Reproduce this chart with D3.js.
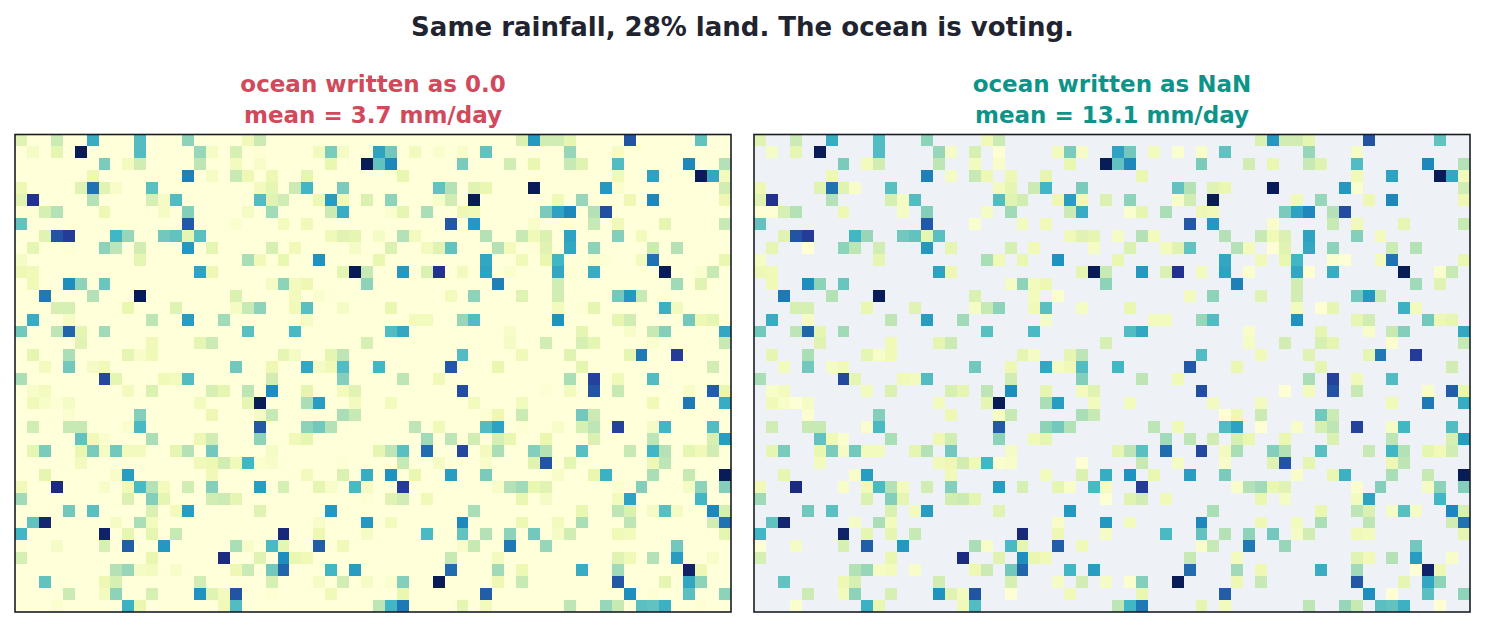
<!DOCTYPE html>
<html>
<head>
<meta charset="utf-8">
<script src="https://cdn.jsdelivr.net/npm/d3@7"></script>
<style>
  html, body { margin: 0; padding: 0; background: #fff; }
  text { font-family: "DejaVu Sans", sans-serif; font-weight: bold; }
</style>
</head>
<body>
<div id="chart"></div>
<script>
// land cells only, one list per row: [column, mm/day]
const landRows = [
  [[0,10],[3,14],[6,32],[10,28],[14,21],[19,6],[20,14],[42,11],[43,36],[44,13],[45,13],[46,9],[51,47],[57,26]],
  [[1,4],[3,9],[5,60],[10,28],[15,20],[16,4],[18,12],[20,1],[25,5],[26,23],[27,4],[30,34],[31,24],[33,5],[35,2],[37,3],[39,26],[46,20],[50,4]],
  [[7,23],[9,5],[10,13],[15,16],[18,5],[20,3],[26,8],[29,60],[30,26],[31,39],[37,23],[41,13],[43,8],[46,15],[47,10],[50,28],[56,39],[59,17]],
  [[6,7],[14,40],[16,4],[18,15],[19,7],[21,7],[24,9],[32,8],[50,6],[53,34],[57,60],[58,33],[59,5]],
  [[0,7],[5,10],[6,42],[7,10],[8,3],[11,27],[20,5],[21,9],[23,14],[24,30],[27,23],[35,26],[36,17],[38,10],[39,8],[43,60],[49,36],[50,2],[59,13]],
  [[0,10],[1,53],[6,17],[11,12],[12,4],[13,28],[20,28],[21,10],[22,13],[25,7],[26,35],[27,6],[29,11],[31,21],[35,3],[36,13],[38,60],[45,6],[47,20],[51,7],[53,39],[59,7]],
  [[0,1],[1,1],[2,12],[3,17],[7,7],[12,4],[14,22],[19,4],[21,19],[26,14],[27,32],[31,2],[32,9],[34,18],[37,7],[38,6],[44,23],[45,34],[46,39],[48,17],[49,48]],
  [[0,26],[14,46],[18,2],[22,5],[24,6],[36,46],[38,36],[43,3],[48,15],[50,6],[54,9],[59,15]],
  [[2,10],[3,47],[4,51],[8,30],[9,20],[12,24],[13,26],[14,9],[15,27],[26,6],[27,10],[28,9],[30,4],[32,17],[33,5],[39,17],[42,15],[43,6],[44,11],[46,34],[50,22],[52,5]],
  [[1,9],[4,1],[7,21],[8,16],[10,13],[14,36],[16,9],[21,12],[23,6],[28,4],[31,11],[34,5],[35,10],[36,26],[40,17],[41,5],[43,1],[44,10],[46,33],[48,21],[53,14],[55,17]],
  [[0,4],[10,9],[19,18],[20,6],[22,8],[25,37],[30,8],[39,33],[42,6],[44,8],[45,30],[48,2],[49,1],[52,5],[53,42],[59,8]],
  [[0,7],[1,6],[15,34],[16,7],[27,9],[28,60],[29,15],[32,36],[34,11],[35,53],[37,5],[39,34],[41,2],[45,33],[46,1],[48,32],[54,60],[57,2],[58,15]],
  [[1,6],[4,38],[5,21],[7,25],[21,4],[22,21],[23,5],[24,7],[29,21],[40,40],[45,13],[55,19],[57,10]],
  [[2,41],[6,17],[10,60],[18,11],[23,5],[25,2],[36,5],[38,21],[42,10],[45,13],[50,24],[51,36],[52,15]],
  [[3,12],[4,12],[9,8],[13,10],[18,4],[19,15],[20,21],[23,6],[24,27],[27,4],[31,8],[45,5],[47,1],[48,9],[54,31],[55,5]],
  [[1,32],[4,4],[11,16],[14,35],[17,19],[24,4],[33,5],[34,5],[37,20],[38,28],[45,37],[50,9],[51,13],[56,24],[57,7],[58,9]],
  [[0,24],[3,16],[4,44],[5,9],[7,19],[19,27],[23,29],[31,28],[32,33],[41,3],[47,9],[51,3],[53,15],[54,22],[59,33]],
  [[5,10],[11,6],[15,9],[16,14],[29,12],[41,4],[44,13],[47,12],[48,9],[53,2],[59,15]],
  [[1,9],[4,18],[9,9],[10,3],[11,6],[22,9],[23,4],[26,9],[27,16],[37,28],[42,6],[46,10],[51,9],[52,41],[55,51]],
  [[2,5],[4,24],[6,4],[7,6],[18,24],[21,7],[24,33],[25,4],[26,6],[27,28],[30,30],[36,46],[40,8],[47,9],[58,13]],
  [[0,18],[7,49],[8,9],[12,6],[13,5],[14,28],[21,13],[27,22],[32,16],[35,6],[46,18],[48,50],[50,6],[53,28]],
  [[1,3],[2,5],[9,5],[11,11],[16,12],[17,9],[19,16],[21,38],[24,9],[27,5],[28,10],[37,48],[44,1],[46,5],[48,47],[50,15],[56,3],[58,45],[59,8]],
  [[1,6],[2,3],[3,1],[4,4],[15,5],[19,9],[20,60],[24,18],[25,35],[28,5],[31,5],[38,5],[42,5],[53,6],[56,41],[59,32]],
  [[4,2],[10,22],[16,7],[20,4],[21,15],[27,18],[28,15],[39,1],[40,7],[42,14],[47,24],[48,14]],
  [[1,13],[4,15],[5,15],[9,2],[10,29],[20,46],[24,21],[25,24],[26,17],[33,16],[35,6],[39,28],[40,34],[42,1],[45,3],[47,12],[48,16],[50,50],[53,4],[54,30],[58,28]],
  [[5,26],[6,6],[7,2],[11,18],[15,7],[16,13],[20,21],[23,6],[24,9],[34,19],[36,16],[38,13],[40,12],[41,8],[44,8],[48,11],[53,16],[58,12],[59,35]],
  [[1,9],[2,23],[5,8],[6,23],[7,4],[8,24],[9,5],[10,5],[13,9],[14,17],[16,24],[21,4],[30,9],[31,16],[32,27],[34,43],[37,49],[39,5],[40,18],[43,22],[44,17],[47,27],[51,15],[53,30],[54,17],[56,9],[57,6],[58,13]],
  [[5,5],[15,6],[16,7],[17,13],[18,6],[19,30],[20,2],[21,3],[27,1],[32,15],[35,4],[39,3],[43,10],[44,47],[46,9],[53,7],[54,16]],
  [[2,9],[8,3],[9,35],[16,6],[24,5],[27,11],[29,32],[31,37],[33,8],[36,35],[39,23],[45,3],[48,8],[49,31],[53,18],[56,15],[59,60]],
  [[0,6],[3,55],[7,3],[9,6],[10,29],[11,17],[12,5],[14,13],[16,22],[20,35],[22,12],[25,9],[26,3],[28,29],[29,4],[32,51],[40,3],[41,17],[42,19],[43,8],[44,10],[50,2],[52,22],[56,4],[57,21],[59,22]],
  [[0,19],[9,11],[11,22],[12,9],[16,13],[17,14],[18,9],[29,1],[31,10],[32,13],[34,6],[42,8],[44,4],[50,5],[51,34],[57,30]],
  [[4,24],[6,27],[11,11],[13,5],[14,35],[20,10],[26,36],[38,18],[47,8],[50,16],[51,11],[53,4],[54,27],[55,4],[58,39],[59,12]],
  [[1,26],[2,57],[8,4],[10,18],[11,5],[25,3],[29,36],[31,5],[37,39],[42,7],[45,5],[47,18],[51,16],[58,13],[59,42]],
  [[0,30],[7,58],[9,9],[11,9],[13,15],[22,56],[25,7],[29,4],[34,29],[37,26],[39,17],[41,21],[43,24],[45,4],[46,13],[50,6],[51,5],[59,9]],
  [[0,1],[3,4],[7,12],[9,45],[12,36],[18,18],[19,3],[21,29],[22,9],[25,45],[27,6],[37,3],[38,15],[41,41],[44,20],[55,24]],
  [[0,12],[11,8],[17,55],[20,10],[22,38],[23,8],[24,6],[36,15],[40,5],[50,10],[51,6],[53,17],[55,35],[58,3]],
  [[8,17],[9,20],[10,4],[11,5],[13,3],[18,7],[19,14],[21,24],[22,44],[26,30],[28,35],[36,43],[40,19],[42,7],[47,32],[50,19],[55,1],[56,58],[57,7]],
  [[2,26],[7,7],[8,12],[15,13],[21,12],[25,4],[27,13],[29,4],[31,2],[32,22],[35,60],[40,7],[42,15],[50,46],[54,9],[56,33],[57,21]],
  [[4,14],[7,5],[8,21],[11,12],[15,37],[16,10],[17,5],[18,47],[21,1],[26,6],[32,8],[39,45],[51,38],[53,1],[56,27],[59,21]],
  [[3,2],[9,31],[10,8],[17,6],[18,28],[30,16],[31,30],[32,41],[37,9],[39,5],[46,16],[49,20],[50,15],[52,27],[53,26],[54,31],[57,1]]
];
const colorStops = ["#ffffd9", "#edf8b1", "#c7e9b4", "#7fcdbb", "#41b6c4", "#1d91c0", "#225ea8", "#253494", "#081d58"];
const columnIds = d3.range(60);
const rowIds = d3.range(40);
const figureTitle = "Same rainfall, 28% land. The ocean is voting.";
const panelTitles = [
  ["ocean written as 0.0", "mean = 3.7 mm/day"],
  ["ocean written as NaN", "mean = 13.1 mm/day"]
];

const width = 1485;
const height = 627;
const vmax = 60;

const panels = [
  { x0: 15, ocean: colorStops[0], titleColor: "#d1495b", titles: panelTitles[0] },
  { x0: 754, ocean: "#eef2f7", titleColor: "#0d9488", titles: panelTitles[1] }
];
const panelW = 716;
const panelH = 477.5;
const panelTop = 134.5;

const color = d3
  .scaleLinear()
  .domain(colorStops.map((c, i) => (i * vmax) / (colorStops.length - 1)))
  .range(colorStops)
  .interpolate(d3.interpolateRgb);

const x = d3.scaleBand().domain(columnIds).range([0, panelW]);
const y = d3.scaleBand().domain(rowIds).range([0, panelH]);

const cells = landRows.flatMap((row, r) => row.map((d) => ({ r: r, c: d[0], v: d[1] })));

const svg = d3
  .select("#chart")
  .append("svg")
  .attr("width", width)
  .attr("height", height)
  .style("display", "block");

svg
  .append("text")
  .attr("x", 742.5)
  .attr("y", 36)
  .attr("text-anchor", "middle")
  .attr("font-size", 26)
  .attr("fill", "#1f2430")
  .text(figureTitle);

panels.forEach((p) => {
  const g = svg.append("g").attr("transform", "translate(" + p.x0 + "," + panelTop + ")");

  g.append("rect")
    .attr("width", panelW)
    .attr("height", panelH)
    .attr("fill", p.ocean);

  g.selectAll(".cell")
    .data(cells)
    .enter()
    .append("rect")
    .attr("class", "cell")
    .attr("x", (d) => x(d.c))
    .attr("y", (d) => y(d.r))
    .attr("width", x.bandwidth())
    .attr("height", y.bandwidth())
    .attr("fill", (d) => color(d.v))
    .attr("shape-rendering", "crispEdges");

  g.append("rect")
    .attr("width", panelW)
    .attr("height", panelH)
    .attr("fill", "none")
    .attr("stroke", "#1a1d26")
    .attr("stroke-width", 1.6);

  svg
    .selectAll(null)
    .data(p.titles)
    .enter()
    .append("text")
    .attr("x", p.x0 + panelW / 2)
    .attr("y", (d, i) => 91.5 + i * 31)
    .attr("text-anchor", "middle")
    .attr("font-size", 23)
    .attr("fill", p.titleColor)
    .text((d) => d);
});
</script>
</body>
</html>
